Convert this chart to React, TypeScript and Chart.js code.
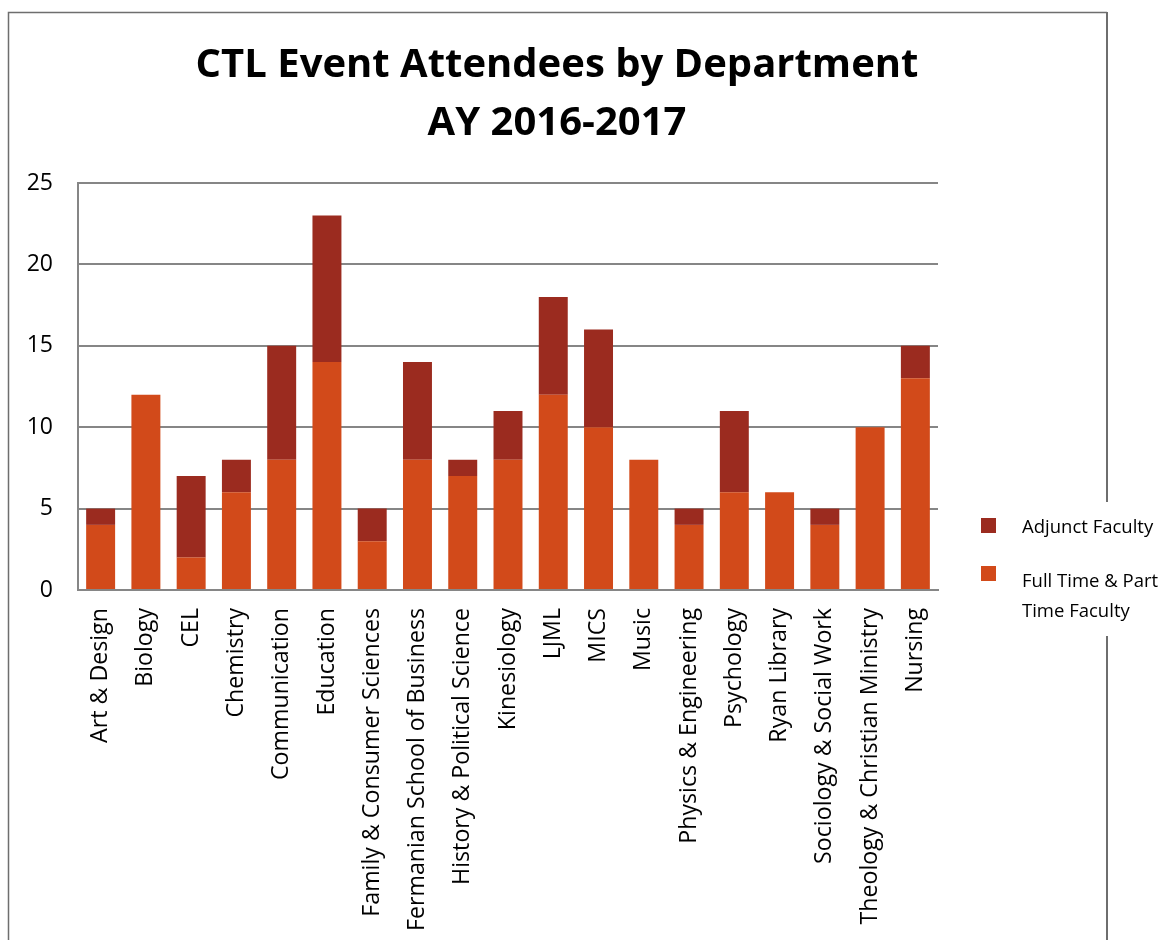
import { useEffect, useRef } from 'react';
import { Chart, registerables } from 'chart.js';

Chart.register(...registerables);

const categories = [
  'Art & Design',
  'Biology',
  'CEL',
  'Chemistry',
  'Communication',
  'Education',
  'Family & Consumer Sciences',
  'Fermanian School of Business',
  'History & Political Science',
  'Kinesiology',
  'LJML',
  'MICS',
  'Music',
  'Physics & Engineering',
  'Psychology',
  'Ryan Library',
  'Sociology & Social Work',
  'Theology & Christian Ministry',
  'Nursing',
];

const fullTimeValues = [4, 12, 2, 6, 8, 14, 3, 8, 7, 8, 12, 10, 8, 4, 6, 6, 4, 10, 13];
const adjunctValues = [1, 0, 5, 2, 7, 9, 2, 6, 1, 3, 6, 6, 0, 1, 5, 0, 1, 0, 2];

const titleLines = ['CTL Event Attendees by Department', 'AY 2016-2017'];
const fullTimeName = 'Full Time & Part Time Faculty';
const adjunctName = 'Adjunct Faculty';
const legendLines = [[adjunctName], ['Full Time & Part', 'Time Faculty']];

const yMin = 0;
const yMax = 25;
const yStep = 5;

const fullTimeColor = '#D24A1A';
const adjunctColor = '#9B2B1F';
const gridColor = '#868686';
const frameColor = '#6e6e6e';
const FONT = '"Open Sans", "DejaVu Sans", sans-serif';

const W = 1162;
const H = 940;

const decorPlugin = {
  id: 'decor',
  afterDraw(chart: any) {
    const ctx = chart.ctx as CanvasRenderingContext2D;
    const area = chart.chartArea;
    ctx.save();
    // outer frame
    ctx.strokeStyle = frameColor;
    ctx.lineWidth = 1.5;
    ctx.beginPath();
    ctx.moveTo(8.5, H);
    ctx.lineTo(8.5, 12.5);
    ctx.lineTo(1107, 12.5);
    ctx.stroke();
    ctx.lineWidth = 2;
    ctx.beginPath();
    ctx.moveTo(1107, 12);
    ctx.lineTo(1107, 502);
    ctx.moveTo(1107, 636);
    ctx.lineTo(1107, H);
    ctx.stroke();

    // legend
    const colors = [adjunctColor, fullTimeColor];
    const boxX = area.right + 43;
    const textX = area.right + 84;
    const firstBoxTop = area.bottom - 72;
    const itemGap = 48;
    ctx.font = `18.5px ${FONT}`;
    ctx.fillStyle = '#000';
    ctx.textAlign = 'left';
    ctx.textBaseline = 'alphabetic';
    legendLines.forEach((lines, i) => {
      const top = firstBoxTop + i * itemGap;
      ctx.fillStyle = colors[i];
      ctx.fillRect(boxX, top, 15, 15);
      ctx.fillStyle = '#000';
      lines.forEach((line, j) => {
        ctx.fillText(line, textX, top + 15 + (i === 1 ? 6 : 0) + j * 30);
      });
    });
    ctx.restore();
  },
};

export default function App() {
  const canvasRef = useRef<HTMLCanvasElement | null>(null);

  useEffect(() => {
    const canvas = canvasRef.current;
    if (!canvas) return;
    const chart = new Chart(canvas, {
      type: 'bar',
      data: {
        labels: categories,
        datasets: [
          {
            label: fullTimeName,
            data: fullTimeValues,
            backgroundColor: fullTimeColor,
            borderWidth: 0,
            barPercentage: 0.64,
            categoryPercentage: 1,
            yAxisID: 'y',
          },
          {
            label: adjunctName,
            data: adjunctValues,
            backgroundColor: adjunctColor,
            borderWidth: 0,
            barPercentage: 0.64,
            categoryPercentage: 1,
            yAxisID: 'y',
          },
        ],
      },
      options: {
        responsive: false,
        animation: false,
        devicePixelRatio: 1,
        layout: { padding: { left: 0, right: 48, top: 0, bottom: 0 } },
        plugins: {
          legend: { display: false },
          tooltip: { enabled: false },
          title: {
            display: true,
            text: titleLines,
            color: '#000',
            font: { family: FONT, size: 40, weight: 'bold', lineHeight: 1.45 },
            padding: { top: 37, bottom: 30 },
          },
        },
        scales: {
          x: {
            stacked: true,
            grid: { display: false, drawTicks: false },
            border: { display: true, color: gridColor, width: 2 },
            ticks: {
              color: '#000',
              font: { family: FONT, size: 23.2 },
              maxRotation: 90,
              minRotation: 90,
              padding: 18,
              autoSkip: false,
            },
            afterFit: (s: any) => {
              s.height = 350;
            },
          },
          y: {
            stacked: true,
            min: yMin,
            max: yMax,
            ticks: {
              stepSize: yStep,
              color: '#000',
              font: { family: FONT, size: 23 },
              padding: 25,
            },
            grid: { color: gridColor, lineWidth: 2, drawTicks: false },
            border: { display: true, color: gridColor, width: 2 },
            afterFit: (s: any) => {
              s.width = 78;
            },
          },
          yRight: {
            type: 'linear',
            position: 'right',
            display: true,
            min: 0,
            max: 1,
            grid: { display: false, drawTicks: false },
            border: { display: false },
            ticks: { display: false },
            afterFit: (s: any) => {
              s.width = 176;
            },
          },
        },
      },
      plugins: [decorPlugin],
    } as any);

    if ((document as any).fonts && (document as any).fonts.load) {
      Promise.all([
        (document as any).fonts.load(`bold 40px "Open Sans"`),
        (document as any).fonts.load(`23px "Open Sans"`),
      ]).then(() => {
        try {
          chart.update();
        } catch (e) {
          /* ignore */
        }
      });
    }

    return () => {
      chart.destroy();
    };
  }, []);

  return (
    <div style={{ position: 'absolute', left: 0, top: 0, width: W, height: H, background: '#fff' }}>
      <canvas ref={canvasRef} width={W} height={H} style={{ width: W, height: H, display: 'block' }} />
    </div>
  );
}
